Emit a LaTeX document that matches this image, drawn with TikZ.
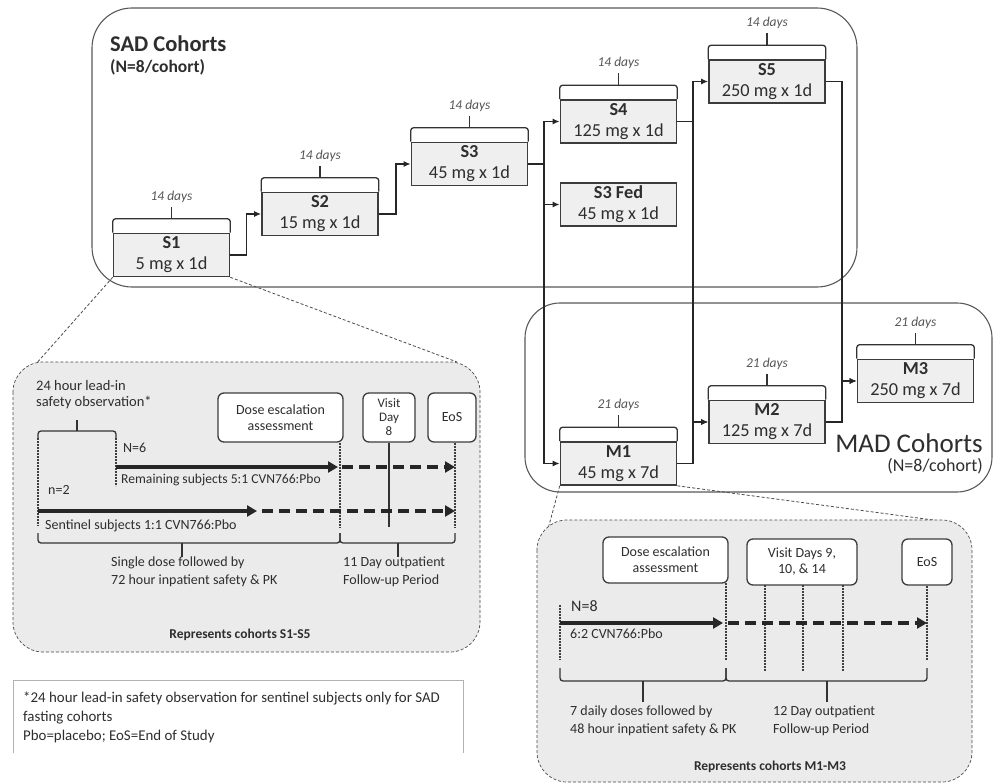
\documentclass[tikz,border=0pt]{standalone}
\usepackage{fontspec}
\setmainfont{Carlito}
\usetikzlibrary{arrows.meta,calc}
\definecolor{boxfill}{HTML}{EFEFEF}
\definecolor{insetfill}{HTML}{EBEBEB}
\definecolor{edge}{HTML}{3C3C3C}
\definecolor{txt}{HTML}{2E2E2E}
\definecolor{softtxt}{HTML}{555555}
\newcommand{\fs}[2]{\fontsize{#1}{#2}\selectfont}
\newcommand{\cohortbrace}[3]{%
  \draw[bracestyle] (#1.north west) -- ++(0,-14) -- ($(#1.north east)+(0,-14)$) -- (#1.north east);
  \draw[bracestyle] ($(#1.north)+(0,-14)$) -- ++(0,-12);
  \node[days] (#2) at ($(#1.north)+(0,-36)$) {#3};}
\begin{document}
\begin{tikzpicture}[x=1pt,y=-1pt,
  cohort/.style={draw=edge, line width=1.6pt, fill=boxfill, minimum width=116pt, minimum height=43pt, inner sep=0pt, align=center, font=\fs{18.3}{21}, text=txt},
  days/.style={font=\fs{13.5}{16}\itshape, text=softtxt, inner sep=0pt},
  conn/.style={draw=black!85, line width=1.4pt, -{Latex[length=7pt,width=6pt]}},
  group/.style={draw=black!65, line width=1.1pt, rounded corners=40pt},
  panel/.style={draw=black!70, densely dashed, line width=0.7pt, fill=insetfill, rounded corners=30pt},
  zoomline/.style={draw=black!70, densely dashed, line width=0.8pt},
  evbox/.style={draw=edge, line width=1.3pt, fill=white, rounded corners=6pt, align=center, inner sep=0pt, font=\fs{14}{16}, text=txt},
  lbl/.style={font=\fs{14}{19}, text=txt, inner sep=0pt},
  thickarr/.style={draw=black!85, line width=4pt, -{Triangle[length=10pt,width=11pt]}},
  dasharr/.style={thickarr, dash pattern=on 11pt off 6pt},
  tickline/.style={draw=black!75, line width=1.3pt, dash pattern=on 2pt off 1pt},
  bracestyle/.style={draw=black!80, line width=1.3pt, rounded corners=3pt},
]
\useasboundingbox (0,0) rectangle (994,784);
\fill[white] (0,0) rectangle (994,784);

% group frames
\draw[group] (92,8) rectangle (857,287);
\draw[group, rounded corners=35pt] (525,303) rectangle (992,492);

% cohort boxes
\node[cohort] (S1) at (171.5,255) {\textbf{S1}\\5 mg x 1d};
\node[cohort] (S2) at (320,214) {\textbf{S2}\\15 mg x 1d};
\node[cohort] (S3) at (469.5,164) {\textbf{S3}\\45 mg x 1d};
\node[cohort] (S4) at (618.5,121.5) {\textbf{S4}\\125 mg x 1d};
\node[cohort] (S3F) at (618.5,204.5) {\textbf{S3 Fed}\\45 mg x 1d};
\node[cohort] (S5) at (767,81.5) {\textbf{S5}\\250 mg x 1d};
\node[cohort] (M1) at (618.5,463.5) {\textbf{M1}\\45 mg x 7d};
\node[cohort] (M2) at (767,422) {\textbf{M2}\\125 mg x 7d};
\node[cohort] (M3) at (915.5,381) {\textbf{M3}\\250 mg x 7d};

\cohortbrace{S1}{dS1}{14 days}
\cohortbrace{S2}{dS2}{14 days}
\cohortbrace{S3}{dS3}{14 days}
\cohortbrace{S4}{dS4}{14 days}
\cohortbrace{S5}{dS5}{14 days}
\cohortbrace{M1}{dM1}{21 days}
\cohortbrace{M2}{dM2}{21 days}
\cohortbrace{M3}{dM3}{21 days}

% titles
\node[anchor=base west, inner sep=0pt, font=\fs{22.5}{27}\bfseries, text=txt] (sadt) at (110,52) {SAD Cohorts};
\node[anchor=mid west, inner sep=0pt, font=\fs{17.5}{20}\bfseries, text=txt] (sadn) at (110,70) {(N=8/cohort)};
\node[anchor=base east, inner sep=0pt, font=\fs{27}{30}, text=txt] (madt) at (983,452) {MAD Cohorts};
\node[anchor=mid east, inner sep=0pt, font=\fs{18}{20}, text=txt] (madn) at (983,469) {(N=8/cohort)};

% connectors
\coordinate (v1) at (544,0);
\coordinate (v2) at (693,0);
\coordinate (v3) at (842,0);
\draw[conn] (S1.east) -- ++(16,0) |- (S2.west);
\draw[conn] (S2.east) -- ++(17,0) |- (S3.west);
\draw[conn] (S3.east) -- (S3.east -| v1) |- (S4.west);
\draw[conn] (S3.east -| v1) |- (S3F.west);
\draw[conn] (S3.east -| v1) |- (M1.west);
\draw[conn] (S4.east) -- (S4.east -| v2) |- (S5.west);
\draw[conn] (S4.east -| v2) |- (M2.west);
\draw[conn] (M1.east) -- (M1.east -| v2) |- (M2.west);
\draw[conn] (S5.east) -- (S5.east -| v3) |- (M3.west);
\draw[conn] (M2.east) -- (M2.east -| v3) |- (M3.west);

% zoom lines
\coordinate (zl1) at (35,365);
\coordinate (zl2) at (457,362);
\coordinate (zr1) at (545,540);
\coordinate (zr2) at (933,520);
\draw[zoomline] (S1.south west) -- (zl1);
\draw[zoomline] (S1.south east) -- (zl2);
\draw[zoomline] (M1.south west) -- (zr1);
\draw[zoomline] (M1.south east) -- (zr2);

% ---------- left inset ----------
\draw[panel] (13,362) rectangle (480,652);
\node[anchor=north west, align=left, font=\fs{14.5}{16}, text=txt, inner sep=0pt] (lead) at (36,380) {24 hour lead-in\\safety observation*};
\draw[bracestyle] (38,438) -- (38,431) -- (116,431) -- (116,438);
\draw[bracestyle] (77,431) -- (77,420);
\node[evbox, minimum width=125pt, minimum height=49pt] (dose1) at (280.5,417.5) {Dose escalation\\assessment};
\node[evbox, minimum width=52pt, minimum height=49pt, font=\fs{13}{14}] (visit1) at (389,417.5) {Visit\\Day\\8};
\node[evbox, minimum width=48pt, minimum height=49pt] (eos1) at (452,417.5) {EoS};
\coordinate (dl1) at (340,0);
\coordinate (el1) at (455,0);
\draw[tickline] (38,438) -- (38,526);
\draw[tickline] (116,438) -- (116,486);
\draw[tickline] (dose1.south -| dl1) -- (dl1 |- 0,527);
\draw[draw=black!80, line width=1.3pt] (visit1.south) -- (389,527);
\draw[tickline] (eos1.south -| el1) -- (el1 |- 0,527);
\node[lbl, anchor=mid west] (n6) at (123,450) {N=6};
\draw[thickarr] (116,467) -- (338,467);
\draw[dasharr] (342,467) -- (455,467);
\node[lbl, anchor=mid west, font=\fs{13.6}{19}] (rem) at (121,481) {Remaining subjects 5:1 CVN766:Pbo};
\node[lbl, anchor=mid west] (n2) at (48,492) {n=2};
\draw[thickarr] (38,511) -- (257,511);
\draw[dasharr] (262,511) -- (455,511);
\node[lbl, anchor=mid west] (sent) at (45,527) {Sentinel subjects 1:1 CVN766:Pbo};
\draw[bracestyle] (38,533) -- (38,543) -- (340,543) -- (340,533);
\draw[bracestyle] (340,533) -- (340,543) -- (455,543) -- (455,533);
\draw[bracestyle] (182,543) -- (182,557);
\draw[bracestyle] (398,543) -- (398,557);
\node[lbl, anchor=mid west] (sd1) at (111,564) {Single dose followed by};
\node[lbl, anchor=mid west] (sd2) at (111,582) {72 hour inpatient safety \& PK};
\node[lbl, anchor=mid west] (od1) at (343,564) {11 Day outpatient};
\node[lbl, anchor=mid west] (od2) at (343,582) {Follow-up Period};
\node[font=\fs{13.5}{16}\bfseries, text=txt, inner sep=0pt, anchor=mid] (rep1) at (240,636) {Represents cohorts S1-S5};

% ---------- right inset ----------
\draw[panel] (537,520) rectangle (972,782);
\node[evbox, minimum width=125pt, minimum height=46pt] (dose2) at (665.5,560) {Dose escalation\\assessment};
\node[evbox, minimum width=110pt, minimum height=46pt] (visit2) at (802,562) {Visit Days 9,\\10, \& 14};
\node[evbox, minimum width=50pt, minimum height=46pt] (eos2) at (927,562) {EoS};
\draw[tickline] (560,605) -- (560,660);
\draw[tickline] (726,583) -- (726,660);
\draw[tickline] (765,585) -- (765,671);
\draw[tickline] (803,585) -- (803,671);
\draw[tickline] (843,585) -- (843,671);
\draw[tickline] (eos2.south) -- (927,660);
\node[lbl, anchor=mid west, font=\fs{16}{19}] (n8) at (571,609) {N=8};
\draw[thickarr] (560,623) -- (723,623);
\draw[dasharr] (728,623) -- (927,623);
\node[lbl, anchor=mid west] (ratio) at (570,636) {6:2 CVN766:Pbo};
\draw[bracestyle] (560,668) -- (560,681) -- (726,681) -- (726,668);
\draw[bracestyle] (726,668) -- (726,681) -- (927,681) -- (927,668);
\draw[bracestyle] (643,681) -- (643,702);
\draw[bracestyle] (827,681) -- (827,702);
\node[lbl, anchor=mid west] (md1) at (570,713) {7 daily doses followed by};
\node[lbl, anchor=mid west] (md2) at (570,731) {48 hour inpatient safety \& PK};
\node[lbl, anchor=mid west] (mo1) at (773,713) {12 Day outpatient};
\node[lbl, anchor=mid west] (mo2) at (773,731) {Follow-up Period};
\node[font=\fs{13.5}{16}\bfseries, text=txt, inner sep=0pt, anchor=mid] (rep2) at (770,768) {Represents cohorts M1-M3};

% ---------- footnote ----------
\draw[draw=black!30, line width=0.8pt] (13,753) -- (13,680) -- (463,680) -- (463,753);
\node[lbl, anchor=mid west, font=\fs{14.9}{16}] (fn1) at (23,700) {*24 hour lead-in safety observation for sentinel subjects only for SAD};
\node[lbl, anchor=mid west, font=\fs{14.9}{16}] (fn2) at (23,719) {fasting cohorts};
\node[lbl, anchor=mid west, font=\fs{14.9}{16}] (fn3) at (23,738) {Pbo=placebo; EoS=End of Study};
\end{tikzpicture}
\end{document}
